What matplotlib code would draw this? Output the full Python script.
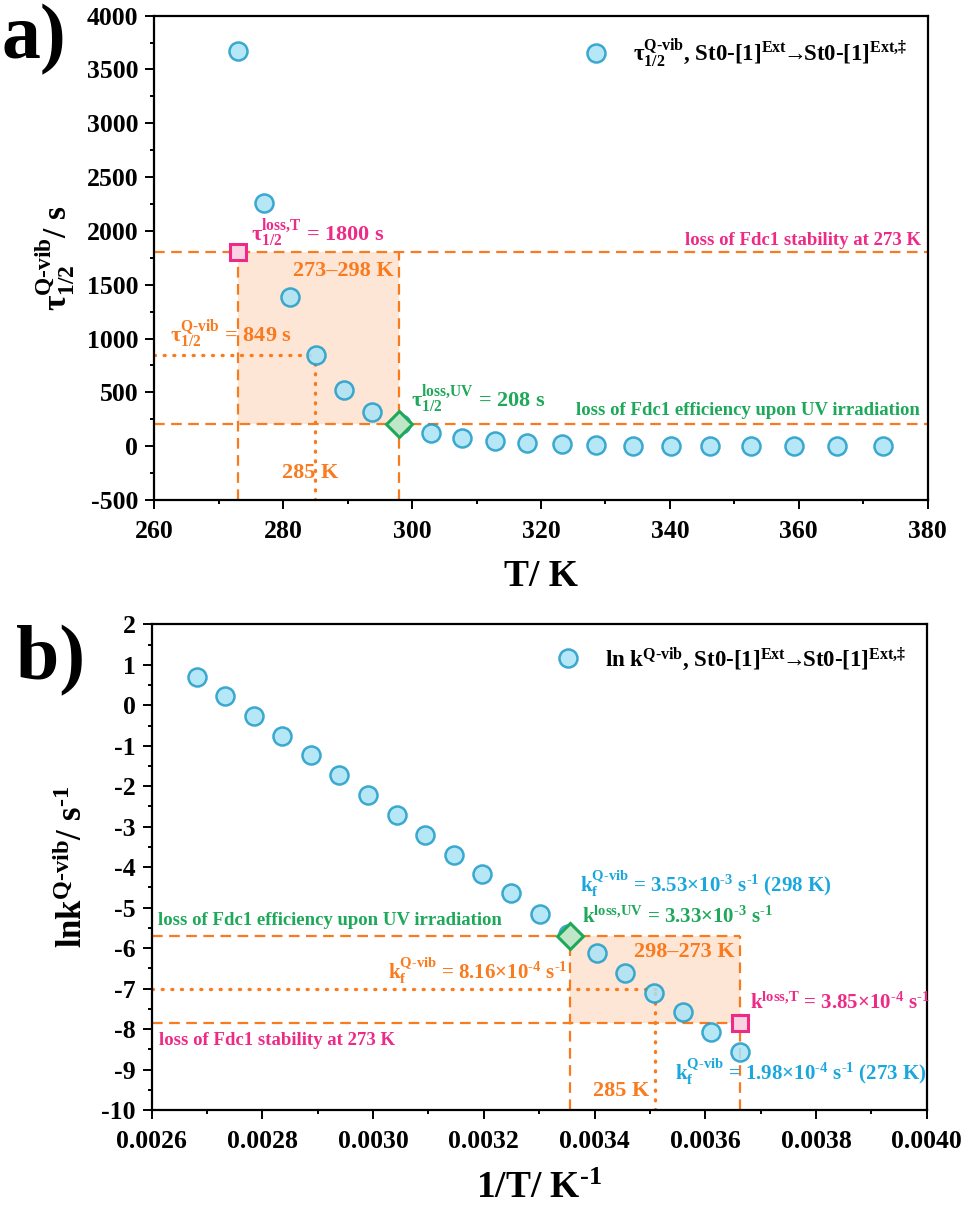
import numpy as np
import matplotlib
matplotlib.use('Agg')
import matplotlib.pyplot as plt
from matplotlib.ticker import MultipleLocator, FormatStrFormatter

plt.rcParams['font.family'] = ['Liberation Serif', 'DejaVu Serif']
plt.rcParams['font.weight'] = 'bold'
plt.rcParams['axes.labelweight'] = 'bold'
plt.rcParams['mathtext.fontset'] = 'custom'
plt.rcParams['mathtext.rm'] = 'Liberation Serif:bold'
plt.rcParams['mathtext.it'] = 'Liberation Serif:bold'
plt.rcParams['mathtext.bf'] = 'Liberation Serif:bold'
plt.rcParams['mathtext.default'] = 'rm'
plt.rcParams['axes.unicode_minus'] = False

# --- data ---
T = [273.0, 277.0, 281.0, 285.1, 289.4, 293.8, 298.3, 302.9, 307.8, 312.8,
     317.9, 323.2, 328.6, 334.3, 340.2, 346.3, 352.6, 359.2, 365.9, 373.0]
tau_half = [3670, 2255, 1390, 850, 520, 320, 205, 118, 77, 47,
            27, 16, 10, 6, 5, 3, 2, 1, 1, 1]

inv_T = [0.003662, 0.003610, 0.003559, 0.003507, 0.003455, 0.003404, 0.003352,
         0.003301, 0.003249, 0.003197, 0.003146, 0.003094, 0.003043, 0.002991,
         0.002939, 0.002888, 0.002836, 0.002784, 0.002733, 0.002681]
ln_k = [-8.56, -8.08, -7.59, -7.11, -6.62, -6.12, -5.66, -5.15, -4.65, -4.18,
        -3.69, -3.21, -2.71, -2.22, -1.73, -1.24, -0.75, -0.26, 0.23, 0.71]

# reference values (panel a)
T_loss_T, tau_loss_T = 273, 1800
T_loss_UV, tau_loss_UV = 298, 208
T_f, tau_f = 285, 849
# reference values (panel b)
x_loss_UV, lnk_loss_UV = 0.003356, -5.70
x_loss_T, lnk_loss_T = 0.003663, -7.86
x_f, lnk_f = 0.003509, -7.02

# colours
c_face = '#A9E3F6'
c_edge = '#1E9BC8'
c_orange = '#FA7A1E'
c_pink = '#EE2A87'
c_green = '#1EA85A'
c_blue = '#1AA7DD'
c_fill = '#FDE6D6'

dash = (0, (4.8, 2.9))
dot = (0, (0.3, 2.6))

QV = r'$^{\text{Q-vib}}$'
tauQV = r'$\tau_{1/2}^{\text{Q-vib}}$'
kfQV = r'k$_{\text{f}}^{\text{Q-vib}}$'
m3 = r'$^{\text{-3}}$'
m4 = r'$^{\text{-4}}$'
m1 = r'$^{\text{-1}}$'
reaction = (r'St0-[1]$^{\text{Ext}}\!\!\rightarrow\!\!$St0-[1]'
            r'$^{\text{Ext,‡}}$')


def style_axes(ax):
    for s in ax.spines.values():
        s.set_linewidth(1.6)
    ax.tick_params(which='both', direction='out', top=False, right=False,
                   width=1.4, labelsize=18.5)
    ax.tick_params(which='major', length=6.5)
    ax.tick_params(axis='x', which='major', pad=8)
    ax.tick_params(axis='y', which='major', pad=5)
    ax.tick_params(which='minor', length=3.2)


fig = plt.figure(figsize=(9.65, 12.06), dpi=100)

# ---------------- panel a ----------------
ax1 = fig.add_axes([0.1599, 0.5854, 0.8014, 0.4016])
style_axes(ax1)
ax1.set_xlim(260, 380)
ax1.set_ylim(-500, 4000)
ax1.xaxis.set_major_locator(MultipleLocator(20))
ax1.xaxis.set_minor_locator(MultipleLocator(10))
ax1.yaxis.set_major_locator(MultipleLocator(500))
ax1.yaxis.set_minor_locator(MultipleLocator(250))

ax1.fill_between([T_loss_T, T_loss_UV], tau_loss_UV, tau_loss_T,
                 color=c_fill, lw=0, zorder=1)
ax1.axhline(tau_loss_T, color=c_orange, ls=dash, lw=1.6, zorder=2)
ax1.axhline(tau_loss_UV, color=c_orange, ls=dash, lw=1.6, zorder=2)
ax1.plot([T_loss_T, T_loss_T], [-500, tau_loss_T], color=c_orange, ls=dash, lw=1.6, zorder=2)
ax1.plot([T_loss_UV, T_loss_UV], [-500, tau_loss_T], color=c_orange, ls=dash, lw=1.6, zorder=2)
ax1.plot([260, T_f], [tau_f, tau_f], color=c_orange, ls=dot, lw=2.4,
         dash_capstyle='round', zorder=2)
ax1.plot([T_f, T_f], [-500, tau_f], color=c_orange, ls=dot, lw=2.4,
         dash_capstyle='round', zorder=2)

ax1.plot(T, tau_half, ls='none', marker='o', ms=13, mfc=c_face, mec=c_edge,
         mew=1.8, alpha=0.85, zorder=3, label=tauQV + ', ' + reaction)
ax1.plot([T_loss_T], [tau_loss_T], ls='none', marker='s', ms=12, mfc='#F9D3E2',
         mec=c_pink, mew=2.2, zorder=4)
ax1.plot([T_loss_UV], [tau_loss_UV], ls='none', marker='D', ms=13, mfc='#BFE6C6',
         mec=c_green, mew=2.2, zorder=4)

ax1.text(275.0, 1910, r'$\tau_{1/2}^{\text{loss,T}}$ = 1800 s', color=c_pink,
         fontsize=16, va='baseline')
ax1.text(297.2, 1585, '273\u2013298 K', color=c_orange, fontsize=16,
         ha='right', va='baseline')
ax1.text(262.4, 975, tauQV + ' = 849 s', color=c_orange,
         fontsize=16, va='baseline')
ax1.text(279.8, -300, '285 K', color=c_orange, fontsize=16, va='baseline')
ax1.text(299.8, 367, r'$\tau_{1/2}^{\text{loss,UV}}$ = 208 s', color=c_green,
         fontsize=16, va='baseline')
ax1.text(378.8, 290, 'loss of Fdc1 efficiency upon UV irradiation', color=c_green,
         fontsize=13.5, ha='right', va='baseline')
ax1.text(379.0, 1865, 'loss of Fdc1 stability at 273 K', color=c_pink,
         fontsize=13.5, ha='right', va='baseline')

ax1.legend(loc='upper right', frameon=False, fontsize=16.5, handletextpad=1.1,
           borderaxespad=0.55, borderpad=0.35, handlelength=1.0)
ax1.set_xlabel('T/ K', fontsize=27)
ax1.set_ylabel(tauQV + '/ s', fontsize=24)
ax1.xaxis.set_label_coords(0.5, -0.122)
ax1.yaxis.set_label_coords(-0.10, 0.5)

# ---------------- panel b ----------------
ax2 = fig.add_axes([0.1572, 0.0796, 0.8031, 0.4027])
style_axes(ax2)
ax2.set_xlim(0.0026, 0.0040)
ax2.set_ylim(-10, 2)
ax2.xaxis.set_major_locator(MultipleLocator(0.0002))
ax2.xaxis.set_minor_locator(MultipleLocator(0.0001))
ax2.xaxis.set_major_formatter(FormatStrFormatter('%.4f'))
ax2.yaxis.set_major_locator(MultipleLocator(1))
ax2.yaxis.set_minor_locator(MultipleLocator(0.5))

ax2.fill_between([x_loss_UV, x_loss_T], lnk_loss_T, lnk_loss_UV,
                 color=c_fill, lw=0, zorder=1)
ax2.plot([0.0026, x_loss_T], [lnk_loss_UV, lnk_loss_UV], color=c_orange, ls=dash, lw=1.6, zorder=2)
ax2.plot([0.0026, x_loss_T], [lnk_loss_T, lnk_loss_T], color=c_orange, ls=dash, lw=1.6, zorder=2)
ax2.plot([x_loss_UV, x_loss_UV], [-10, lnk_loss_UV], color=c_orange, ls=dash, lw=1.6, zorder=2)
ax2.plot([x_loss_T, x_loss_T], [-10, lnk_loss_UV], color=c_orange, ls=dash, lw=1.6, zorder=2)
ax2.plot([0.0026, x_f], [lnk_f, lnk_f], color=c_orange, ls=dot, lw=2.4,
         dash_capstyle='round', zorder=2)
ax2.plot([x_f, x_f], [-10, lnk_f], color=c_orange, ls=dot, lw=2.4,
         dash_capstyle='round', zorder=2)

ax2.plot(inv_T, ln_k, ls='none', marker='o', ms=13, mfc=c_face, mec=c_edge,
         mew=1.8, alpha=0.85, zorder=3, label='ln k' + QV + ', ' + reaction)
ax2.plot([x_loss_T], [lnk_loss_T], ls='none', marker='s', ms=12, mfc='#F9D3E2',
         mec=c_pink, mew=2.2, zorder=4)
ax2.plot([x_loss_UV], [lnk_loss_UV], ls='none', marker='D', ms=13, mfc='#BFE6C6',
         mec=c_green, mew=2.2, zorder=4)

ax2.text(0.003373, -4.62, kfQV + ' = 3.53×10' + m3 + ' s' + m1 + ' (298 K)',
         color=c_blue, fontsize=15, va='baseline')
ax2.text(0.003377, -5.37, r'k$^{\text{loss,UV}}$ = 3.33×10' + m3 + ' s' + m1,
         color=c_green, fontsize=15, va='baseline')
ax2.text(0.003653, -6.22, '298\u2013273 K', color=c_orange, fontsize=16,
         ha='right', va='baseline')
ax2.text(0.003027, -6.76, kfQV + ' = 8.16×10' + m4 + ' s' + m1,
         color=c_orange, fontsize=15, va='baseline')
ax2.text(0.00368, -7.51, r'k$^{\text{loss,T}}$ = 3.85×10' + m4 + ' s' + m1,
         color=c_pink, fontsize=15, va='baseline')
ax2.text(0.003545, -9.25, kfQV + ' = 1.98×10' + m4 + ' s' + m1 + ' (273 K)',
         color=c_blue, fontsize=15, va='baseline')
ax2.text(0.003398, -9.66, '285 K', color=c_orange, fontsize=16, va='baseline')
ax2.text(0.002612, -5.44, 'loss of Fdc1 efficiency upon UV irradiation', color=c_green,
         fontsize=13.5, va='baseline')
ax2.text(0.002614, -8.40, 'loss of Fdc1 stability at 273 K', color=c_pink,
         fontsize=13.5, va='baseline')

ax2.legend(loc='upper right', frameon=False, fontsize=16.5, handletextpad=1.1,
           borderaxespad=0.55, borderpad=0.35, handlelength=1.0)
ax2.set_xlabel('1/T/ K' + m1, fontsize=27)
ax2.set_ylabel('lnk' + QV + '/ s' + m1, fontsize=25)
ax2.xaxis.set_label_coords(0.5, -0.126)
ax2.yaxis.set_label_coords(-0.08, 0.5)

fig.text(0.002, 0.997, 'a)', fontsize=56, fontweight='bold', va='top', ha='left')
fig.text(0.017, 0.482, 'b)', fontsize=56, fontweight='bold', va='top', ha='left')

fig.savefig('out.png', dpi=100)
